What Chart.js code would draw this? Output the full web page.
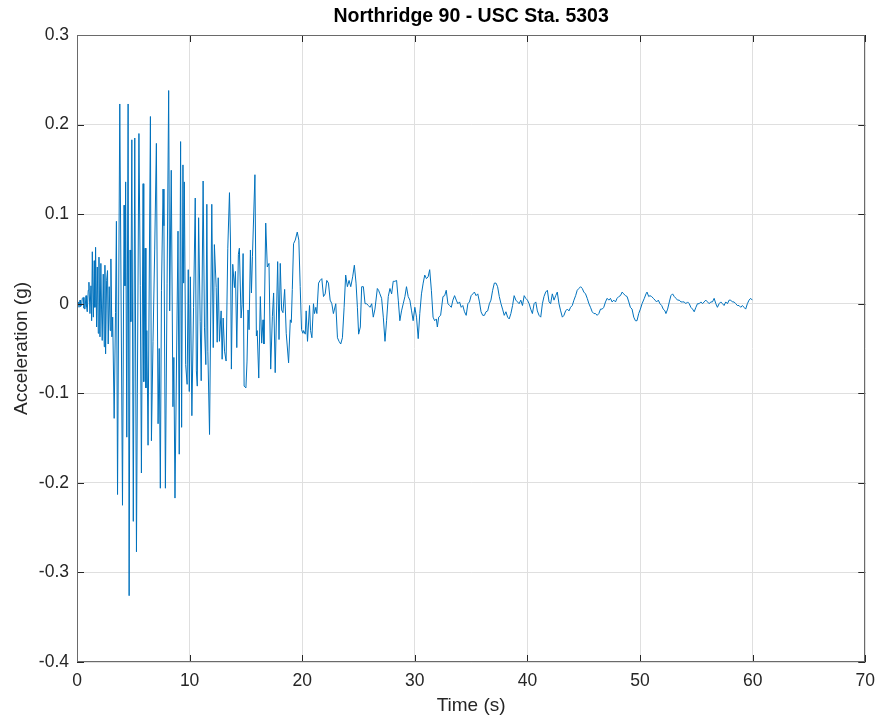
<!DOCTYPE html>
<html>
<head>
<meta charset="utf-8">
<title>Northridge 90 - USC Sta. 5303</title>
<script src="https://cdn.jsdelivr.net/npm/chart.js@4.4.1/dist/chart.umd.min.js"></script>
<style>
  html, body { margin: 0; padding: 0; background: #fff; }
</style>
</head>
<body>
<canvas id="accelChart" width="884" height="719"></canvas>
<script>
// ground acceleration record, time in seconds / acceleration in g
const timeSec = [
  0.00, 0.06, 0.12, 0.18, 0.27, 0.32, 0.41, 0.47, 0.56, 0.62, 0.71, 0.80, 0.86, 0.91,
  1.00, 1.06, 1.15, 1.24, 1.30, 1.36, 1.45, 1.53, 1.59, 1.65, 1.74, 1.80, 1.89, 1.95,
  2.04, 2.12, 2.18, 2.24, 2.33, 2.42, 2.48, 2.54, 2.63, 2.71, 2.77, 2.86, 2.95,
  3.01, 3.10, 3.17, 3.30, 3.42, 3.50, 3.60, 3.80,
  4.04, 4.18, 4.26, 4.32, 4.42, 4.54, 4.63, 4.72, 4.78, 4.87,
  5.00, 5.13, 5.28, 5.36, 5.50, 5.62, 5.72, 5.87, 5.93,
  6.05, 6.12, 6.20, 6.31, 6.52, 6.61, 6.75, 6.90,
  7.05, 7.20, 7.30, 7.40, 7.50, 7.64, 7.72, 7.85,
  8.00, 8.14, 8.23, 8.37, 8.52, 8.60, 8.70, 8.97,
  9.08, 9.20, 9.29, 9.41, 9.47, 9.53, 9.65, 9.78, 9.88, 9.97,
  10.07, 10.20, 10.35, 10.50, 10.60, 10.68, 10.80, 10.94,
  11.03, 11.20, 11.32, 11.44, 11.53, 11.62, 11.77, 11.97,
  12.10, 12.20, 12.36, 12.45, 12.54, 12.65, 12.80, 12.89, 12.98,
  13.10, 13.24, 13.39, 13.54, 13.63, 13.71, 13.83, 13.98,
  14.07, 14.19, 14.33, 14.42, 14.57, 14.66, 14.75, 14.84,
  15.00, 15.10, 15.19, 15.28, 15.40, 15.49, 15.58, 15.80, 15.93,
  16.00, 16.14, 16.28, 16.40, 16.52, 16.60, 16.76, 16.90,
  17.05, 17.20, 17.35, 17.46, 17.60, 17.82, 17.94,
  18.05, 18.17, 18.29, 18.44, 18.58, 18.79, 18.94,
  19.03, 19.12, 19.23, 19.38, 19.56, 19.70, 19.82, 19.94,
  20.06, 20.12, 20.27, 20.35, 20.47, 20.65, 20.74, 20.86,
  21.00, 21.09, 21.21, 21.30, 21.45, 21.59, 21.74, 21.89,
  22.04, 22.18, 22.33, 22.48, 22.63, 22.77, 22.98,
  23.13, 23.27, 23.42, 23.57, 23.72, 23.86,
  24.01, 24.16, 24.31, 24.48, 24.63, 24.78, 24.90,
  25.01, 25.16, 25.28, 25.43, 25.58, 25.72, 25.87,
  26.02, 26.17, 26.31, 26.46, 26.67, 26.78, 26.90,
  27.05, 27.20, 27.35, 27.49, 27.64, 27.79, 27.94,
  28.08, 28.23, 28.38, 28.53, 28.67, 28.82, 28.97,
  29.12, 29.26, 29.41, 29.56, 29.71, 29.85,
  30.00, 30.15, 30.30, 30.44, 30.59, 30.74, 30.88,
  31.03, 31.18, 31.32, 31.47, 31.62, 31.76, 31.91,
  32.00, 32.12, 32.29, 32.50, 32.65, 32.79, 32.94,
  33.09, 33.24, 33.38, 33.53, 33.68, 33.82, 33.97,
  34.12, 34.26, 34.41, 34.56, 34.71, 34.85,
  35.00, 35.15, 35.29, 35.44, 35.59, 35.74, 35.88,
  36.03, 36.18, 36.32, 36.47, 36.62, 36.76, 36.91,
  37.06, 37.21, 37.35, 37.50, 37.65, 37.79, 37.94,
  38.09, 38.24, 38.38, 38.53, 38.68, 38.82, 38.97,
  39.12, 39.26, 39.41, 39.56, 39.71, 39.85,
  40.00, 40.15, 40.29, 40.44, 40.59, 40.74, 40.88,
  41.03, 41.18, 41.33, 41.47, 41.62, 41.77, 41.92,
  42.06, 42.21, 42.36, 42.51, 42.65, 42.80, 42.95,
  43.10, 43.24, 43.39, 43.54, 43.69, 43.83, 43.98,
  44.13, 44.28, 44.42, 44.57, 44.72, 44.87,
  45.01, 45.16, 45.31, 45.46, 45.60, 45.75, 45.90,
  46.05, 46.19, 46.34, 46.49, 46.64, 46.78, 46.93,
  47.08, 47.23, 47.37, 47.52, 47.67, 47.82, 47.96,
  48.11, 48.26, 48.41, 48.55, 48.70, 48.85,
  49.00, 49.14, 49.29, 49.44, 49.59, 49.73, 49.88,
  50.03, 50.18, 50.38, 50.53, 50.62, 50.77, 50.88,
  51.03, 51.18, 51.33, 51.47, 51.62, 51.77, 51.92,
  52.06, 52.21, 52.30, 52.45, 52.60, 52.74, 52.89,
  53.04, 53.19, 53.33, 53.48, 53.63, 53.78, 53.92,
  54.07, 54.22, 54.37, 54.51, 54.66, 54.81, 54.96,
  55.10, 55.25, 55.40, 55.55, 55.69, 55.84, 55.99,
  56.14, 56.28, 56.43, 56.58, 56.73, 56.87,
  57.02, 57.17, 57.32, 57.46, 57.61, 57.76, 57.91,
  58.05, 58.20, 58.35, 58.50, 58.64, 58.79, 58.94,
  59.09, 59.23, 59.38, 59.53, 59.68, 59.82, 59.97
];

const accelG = [
  0, 0, 0.002, -0.004, 0.004, -0.003, -0.002, 0.006, 0.007, -0.005, -0.006, 0.009, -0.004, -0.009,
  0.015, 0.024, -0.011, 0.020, -0.019, 0.058, -0.015, 0.048, -0.004, 0.063, -0.026, 0.041, -0.033, 0.052,
  -0.037, 0.045, -0.007, -0.041, 0.033, -0.048, 0.043, -0.056, 0.026, 0.037, -0.045, 0.019, -0.030,
  0.050, -0.037, -0.015, -0.128, -0.010, 0.092, -0.213, 0.223,
  -0.225, 0.110, 0.020, 0.136, -0.149, 0.223, -0.326, 0.060, -0.020, 0.183,
  -0.243, 0.185, -0.277, -0.100, 0.190, 0.020, -0.189, 0.134, -0.087,
  0.062, -0.094, -0.030, -0.158, 0.209, -0.153, -0.042, 0.060,
  0.179, -0.134, -0.050, -0.206, 0.015, 0.128, 0.087, -0.206,
  0.023, 0.238, -0.008, 0.149, -0.115, -0.060, -0.217, 0.081,
  -0.168, 0.181, -0.138, 0.155, 0.023, 0.136, -0.068, -0.090, 0.038, -0.098,
  0.030, -0.125, -0.004, 0.118, -0.075, -0.092, 0.096, -0.020,
  -0.086, 0.137, -0.027, -0.068, 0.111, -0.053, -0.146, 0.111,
  -0.049, 0.066, 0.018, -0.043, 0.029, -0.042, -0.008, -0.062, -0.016,
  -0.053, -0.064, 0.062, 0.124, 0.070, -0.073, 0.044, 0.018,
  0.036, -0.049, 0.055, 0.062, -0.016, -0.001, 0.056, -0.092,
  -0.094, -0.064, -0.007, -0.029, 0.060, 0.012, 0.053, 0.144, -0.036,
  -0.030, -0.083, 0.008, -0.044, -0.018, -0.045, 0.090, 0.041,
  0.045, -0.073, -0.014, 0.012, -0.077, 0.047, -0.040,
  0.045, -0.007, -0.010, 0.016, -0.033, -0.066, -0.018,
  -0.021, 0.016, 0.067, 0.071, 0.080, 0.071, 0.019, -0.029,
  -0.033, -0.030, -0.034, -0.008, -0.042, -0.002, -0.030, -0.038,
  0.000, -0.011, -0.004, -0.011, 0.023, 0.026, 0.028, 0.008,
  0.011, 0.026, 0.023, 0.004, 0.000, -0.011, 0.000,
  -0.038, -0.042, -0.045, -0.038, -0.004, 0.032,
  0.019, 0.026, 0.019, 0.030, 0.043, 0.023, -0.004,
  -0.034, -0.026, 0.019, 0.019, 0.000, 0.000, -0.002,
  -0.004, 0.000, -0.015, -0.006, 0.017, 0.015, 0.011,
  0.006, -0.015, -0.042, -0.019, 0.008, 0.017, 0.011,
  0.025, 0.025, 0.026, 0.004, -0.019, -0.008, 0.000,
  0.008, 0.019, 0.008, 0.004, -0.008, -0.019,
  -0.004, -0.015, -0.039, -0.011, 0.011, 0.023, 0.032,
  0.028, 0.030, 0.038, 0.015, -0.015, -0.019, -0.017,
  -0.026, -0.015, -0.013, 0.008, 0.009, 0.015, 0.000,
  -0.002, -0.004, 0.004, 0.009, 0.004, 0.000, 0.002,
  -0.004, -0.002, -0.009, -0.013, 0.000, 0.002,
  0.009, 0.011, 0.013, 0.009, 0.011, 0.002, -0.009,
  -0.013, -0.013, -0.009, -0.008, 0.000, 0.004, 0.015,
  0.023, 0.023, 0.019, 0.008, 0.000, -0.006, -0.013,
  -0.009, -0.015, -0.017, -0.011, -0.002, 0.009, 0.004,
  0.002, 0.000, 0.004, -0.002, 0.009, 0.006,
  0.004, 0.000, -0.006, -0.011, 0.000, 0.002, -0.008,
  -0.013, -0.015, 0.000, 0.008, 0.013, 0.015, 0.002,
  0.000, 0.011, 0.004, 0.009, 0.013, 0.000, -0.008,
  -0.015, -0.013, -0.008, -0.006, -0.008, -0.004, -0.002,
  0.004, 0.009, 0.015, 0.017, 0.019, 0.017,
  0.013, 0.011, 0.006, 0.000, -0.004, -0.009, -0.011,
  -0.011, -0.013, -0.011, -0.006, -0.006, -0.004, 0.002,
  0.006, 0.004, 0.006, 0.002, 0.004, 0.002, 0.006,
  0.008, 0.009, 0.013, 0.011, 0.009, 0.008,
  0.002, -0.004, -0.006, -0.015, -0.019, -0.019, -0.011,
  -0.006, 0.000, 0.006, 0.011, 0.013, 0.008, 0.009,
  0.008, 0.006, 0.004, 0.002, 0.004, 0.000, -0.002,
  -0.006, -0.008, -0.011, -0.006, 0.002, 0.009, 0.011,
  0.008, 0.006, 0.004, 0.004, 0.002, 0.002, 0.002,
  0.000, 0.002, 0.000, -0.004, -0.006, -0.009, -0.004,
  0.000, 0.000, 0.002, 0.000, 0.002, 0.004, 0.002,
  0.000, 0.002, 0.002, 0.006, 0.000, -0.004,
  0.000, 0.002, 0.000, -0.002, 0.002, 0.000, 0.004,
  0.004, 0.002, 0.002, 0.000, -0.002, -0.002, -0.004,
  -0.002, -0.004, -0.006, 0.000, 0.004, 0.006, 0.004
];

const xTicks = [0, 10, 20, 30, 40, 50, 60, 70];
const xTickLabels = ['0', '10', '20', '30', '40', '50', '60', '70'];
const yTicks = [-0.4, -0.3, -0.2, -0.1, 0, 0.1, 0.2, 0.3];
const yTickLabels = ['-0.4', '-0.3', '-0.2', '-0.1', '0', '0.1', '0.2', '0.3'];
const chartTitle = 'Northridge 90 - USC Sta. 5303';

const FONT = 'Liberation Sans, Arial, Helvetica, sans-serif';
const TEXT = '#262626';

const n = Math.min(timeSec.length, accelG.length);
const points = [];
for (let i = 0; i < n; i++) points.push({ x: timeSec[i], y: accelG[i] });

// matlab-style box around the axes with ticks pointing inward,
// title centred over the axes rather than the whole canvas
const axesBox = {
  id: 'axesBox',
  afterDraw(chart) {
    const { ctx, chartArea: a, scales } = chart;
    const len = 7;
    ctx.save();
    ctx.lineWidth = 1;
    ctx.strokeStyle = TEXT;
    ctx.beginPath();
    xTicks.forEach(v => {
      const px = Math.round(scales.x.getPixelForValue(v)) + 0.5;
      ctx.moveTo(px, a.bottom); ctx.lineTo(px, a.bottom - len);
      ctx.moveTo(px, a.top); ctx.lineTo(px, a.top + len);
    });
    yTicks.forEach(v => {
      const py = Math.round(scales.y.getPixelForValue(v)) + 0.5;
      ctx.moveTo(a.left, py); ctx.lineTo(a.left + len, py);
      ctx.moveTo(a.right, py); ctx.lineTo(a.right - len, py);
    });
    ctx.stroke();
    ctx.strokeStyle = '#6a6a6a';
    ctx.strokeRect(Math.round(a.left) + 0.5, Math.round(a.top) + 0.5,
      Math.round(a.width) - 1, Math.round(a.height) - 1);

    ctx.fillStyle = '#000';
    ctx.font = 'bold 19.5px ' + FONT;
    ctx.textAlign = 'center';
    ctx.textBaseline = 'middle';
    ctx.fillText(chartTitle, (a.left + a.right) / 2, 17);
    ctx.restore();
  }
};

new Chart(document.getElementById('accelChart'), {
  type: 'line',
  data: {
    datasets: [{
      data: points,
      borderColor: '#0072BD',
      borderWidth: 1,
      pointRadius: 0,
      tension: 0,
      fill: false
    }]
  },
  options: {
    responsive: false,
    animation: false,
    parsing: false,
    layout: { padding: { left: 0, right: 18, top: 35, bottom: 0 } },
    plugins: {
      legend: { display: false },
      tooltip: { enabled: false },
      title: { display: false }
    },
    scales: {
      x: {
        type: 'linear',
        min: 0,
        max: 70,
        afterBuildTicks: s => { s.ticks = xTicks.map(v => ({ value: v })); },
        afterFit: s => { s.height = 57; },
        ticks: {
          callback: (v, i) => xTickLabels[i],
          color: TEXT,
          font: { family: FONT, size: 17.5 },
          padding: 9,
          maxRotation: 0,
          autoSkip: false
        },
        grid: { color: '#dfdfdf', drawTicks: false },
        border: { display: false },
        title: {
          display: true,
          text: 'Time (s)',
          color: TEXT,
          font: { family: FONT, size: 19 },
          padding: { top: 0, bottom: 2 }
        }
      },
      y: {
        type: 'linear',
        min: -0.4,
        max: 0.3,
        afterBuildTicks: s => { s.ticks = yTicks.map(v => ({ value: v })); },
        afterFit: s => { s.width = 77; },
        ticks: {
          callback: (v, i) => yTickLabels[i],
          color: TEXT,
          font: { family: FONT, size: 17.5 },
          padding: 8,
          autoSkip: false
        },
        grid: { color: '#dfdfdf', drawTicks: false },
        border: { display: false },
        title: {
          display: true,
          text: 'Acceleration (g)',
          color: TEXT,
          font: { family: FONT, size: 19 },
          padding: { top: 10, bottom: 0 }
        }
      }
    }
  },
  plugins: [axesBox]
});
</script>
</body>
</html>
